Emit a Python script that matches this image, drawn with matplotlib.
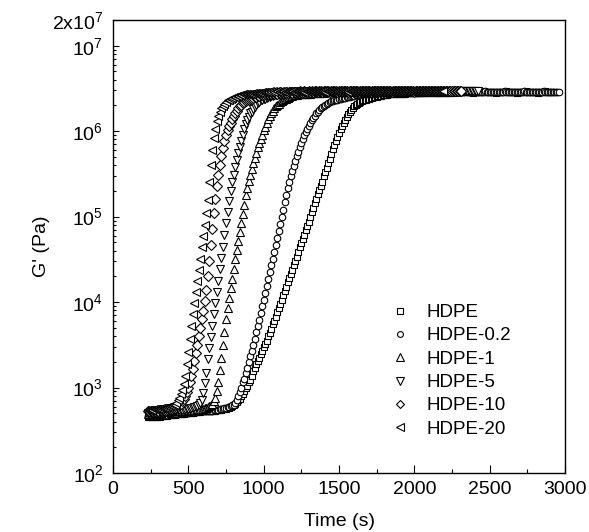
import numpy as np
import matplotlib
matplotlib.use('Agg')
import matplotlib.pyplot as plt
from matplotlib.ticker import MultipleLocator, FixedLocator, LogLocator, NullFormatter

plt.rcParams['font.family'] = ['Liberation Sans', 'DejaVu Sans']
plt.rcParams['mathtext.fontset'] = 'custom'
plt.rcParams['mathtext.rm'] = 'Liberation Sans'
plt.rcParams['mathtext.it'] = 'Liberation Sans:italic'
plt.rcParams['mathtext.bf'] = 'Liberation Sans:bold'

# sampling of the time sweep: first point and interval (s)
t_first = 230
t_step = 10

# log10 G' (Pa), one value per sample, 10 samples (100 s) per row
logG_hdpe = [
    2.65, 2.65, 2.65, 2.66, 2.66, 2.66, 2.66, 2.66, 2.66, 2.67,
    2.67, 2.67, 2.67, 2.67, 2.68, 2.68, 2.68, 2.68, 2.68, 2.69,
    2.69, 2.69, 2.69, 2.69, 2.69, 2.70, 2.70, 2.70, 2.70, 2.70,
    2.70, 2.71, 2.71, 2.71, 2.71, 2.71, 2.72, 2.72, 2.72, 2.72,
    2.72, 2.73, 2.73, 2.73, 2.73, 2.73, 2.74, 2.74, 2.74, 2.74,
    2.75, 2.75, 2.75, 2.76, 2.76, 2.77, 2.78, 2.79, 2.81, 2.83,
    2.85, 2.87, 2.90, 2.93, 2.96, 2.99, 3.02, 3.06, 3.09, 3.13,
    3.19, 3.23, 3.27, 3.31, 3.35, 3.39, 3.43, 3.47, 3.51, 3.55,
    3.60, 3.64, 3.69, 3.74, 3.78, 3.83, 3.88, 3.93, 3.98, 4.03,
    4.08, 4.13, 4.18, 4.23, 4.28, 4.33, 4.38, 4.43, 4.48, 4.53,
    4.59, 4.64, 4.69, 4.74, 4.79, 4.84, 4.89, 4.94, 5.00, 5.05,
    5.10, 5.16, 5.21, 5.26, 5.31, 5.36, 5.41, 5.47, 5.52, 5.57,
    5.63, 5.68, 5.73, 5.79, 5.84, 5.89, 5.93, 5.98, 6.02, 6.06,
    6.10, 6.13, 6.17, 6.20, 6.23, 6.25, 6.27, 6.29, 6.31, 6.32,
    6.33, 6.34, 6.35, 6.36, 6.36, 6.37, 6.38, 6.38, 6.39, 6.39,
    6.40, 6.40, 6.40, 6.41, 6.41, 6.41, 6.42, 6.42, 6.42, 6.42,
    6.43, 6.43, 6.43, 6.43, 6.43, 6.44, 6.44, 6.44, 6.44, 6.44,
    6.44, 6.44, 6.45, 6.45, 6.45, 6.45, 6.45, 6.45, 6.45, 6.45,
    6.45, 6.45, 6.45, 6.46, 6.45, 6.46, 6.46, 6.46, 6.46, 6.46,
    6.46, 6.46, 6.45, 6.46, 6.46, 6.46, 6.46, 6.47, 6.46, 6.46,
    6.46, 6.46, 6.46, 6.46, 6.45, 6.46, 6.46, 6.46, 6.46, 6.46,
    6.47, 6.46, 6.46, 6.46, 6.46, 6.46, 6.45, 6.46, 6.46, 6.46,
    6.46, 6.46, 6.46, 6.47, 6.46, 6.46, 6.46, 6.46, 6.46, 6.46,
    6.46, 6.45, 6.46, 6.46, 6.46, 6.46, 6.46, 6.46, 6.47, 6.46,
    6.46, 6.46, 6.46, 6.46, 6.46, 6.45, 6.46, 6.46, 6.46, 6.46,
    6.46, 6.47, 6.46, 6.46, 6.46, 6.46, 6.46, 6.46, 6.46, 6.45,
    6.46, 6.46, 6.46, 6.46, 6.47, 6.46, 6.46, 6.46, 6.46, 6.46,
]

logG_hdpe_02 = [
    2.67, 2.67, 2.67, 2.67, 2.67, 2.67, 2.68, 2.68, 2.68, 2.68,
    2.68, 2.68, 2.68, 2.68, 2.69, 2.69, 2.69, 2.69, 2.69, 2.69,
    2.69, 2.70, 2.70, 2.70, 2.70, 2.70, 2.70, 2.70, 2.71, 2.71,
    2.71, 2.71, 2.71, 2.72, 2.72, 2.72, 2.72, 2.72, 2.72, 2.73,
    2.73, 2.73, 2.73, 2.73, 2.74, 2.74, 2.74, 2.74, 2.75, 2.75,
    2.75, 2.76, 2.76, 2.77, 2.77, 2.78, 2.79, 2.80, 2.82, 2.85,
    2.90, 2.95, 3.00, 3.06, 3.10, 3.17, 3.23, 3.30, 3.37, 3.43,
    3.50, 3.57, 3.65, 3.72, 3.79, 3.87, 3.95, 4.03, 4.11, 4.19,
    4.27, 4.35, 4.43, 4.51, 4.59, 4.67, 4.75, 4.83, 4.91, 4.99,
    5.08, 5.17, 5.25, 5.33, 5.40, 5.47, 5.53, 5.59, 5.65, 5.71,
    5.76, 5.81, 5.86, 5.91, 5.95, 5.99, 6.03, 6.06, 6.10, 6.13,
    6.16, 6.18, 6.21, 6.23, 6.25, 6.27, 6.28, 6.30, 6.31, 6.32,
    6.33, 6.34, 6.35, 6.35, 6.36, 6.37, 6.37, 6.38, 6.38, 6.39,
    6.39, 6.39, 6.40, 6.40, 6.40, 6.41, 6.41, 6.41, 6.42, 6.42,
    6.42, 6.42, 6.43, 6.43, 6.43, 6.43, 6.44, 6.44, 6.44, 6.44,
    6.44, 6.44, 6.45, 6.45, 6.45, 6.45, 6.45, 6.45, 6.45, 6.45,
    6.45, 6.46, 6.45, 6.46, 6.46, 6.46, 6.46, 6.46, 6.46, 6.46,
    6.46, 6.46, 6.47, 6.46, 6.46, 6.46, 6.46, 6.46, 6.46, 6.46,
    6.46, 6.46, 6.46, 6.46, 6.46, 6.47, 6.46, 6.46, 6.46, 6.46,
    6.46, 6.46, 6.46, 6.46, 6.46, 6.46, 6.46, 6.46, 6.47, 6.46,
    6.46, 6.46, 6.46, 6.46, 6.46, 6.46, 6.46, 6.46, 6.46, 6.46,
    6.46, 6.47, 6.46, 6.46, 6.46, 6.46, 6.46, 6.46, 6.46, 6.46,
    6.46, 6.46, 6.46, 6.46, 6.47, 6.46, 6.46, 6.46, 6.46, 6.46,
    6.46, 6.46, 6.46, 6.46, 6.46, 6.46, 6.46, 6.47, 6.46, 6.46,
    6.46, 6.46, 6.46, 6.46, 6.46, 6.46, 6.46, 6.46, 6.46, 6.46,
    6.47, 6.46, 6.46, 6.46, 6.46, 6.46, 6.46, 6.46, 6.46, 6.46,
    6.46, 6.46, 6.46, 6.47, 6.46, 6.46, 6.46, 6.46, 6.46, 6.46,
    6.46, 6.46, 6.46, 6.46,
]

logG_hdpe_1 = [
    2.69, 2.69, 2.69, 2.69, 2.70, 2.70, 2.70, 2.70, 2.70, 2.70,
    2.71, 2.71, 2.71, 2.71, 2.71, 2.72, 2.72, 2.72, 2.72, 2.72,
    2.72, 2.73, 2.73, 2.73, 2.73, 2.73, 2.73, 2.74, 2.74, 2.74,
    2.74, 2.74, 2.74, 2.75, 2.75, 2.75, 2.75, 2.75, 2.76, 2.76,
    2.77, 2.78, 2.79, 2.81, 2.84, 2.88, 2.96, 3.07, 3.21, 3.35,
    3.50, 3.65, 3.80, 3.93, 4.05, 4.16, 4.27, 4.39, 4.50, 4.61,
    4.71, 4.82, 4.93, 5.03, 5.14, 5.25, 5.33, 5.42, 5.49, 5.56,
    5.63, 5.69, 5.75, 5.81, 5.86, 5.91, 5.96, 6.01, 6.05, 6.10,
    6.14, 6.18, 6.21, 6.24, 6.27, 6.29, 6.31, 6.32, 6.34, 6.35,
    6.37, 6.38, 6.38, 6.39, 6.40, 6.41, 6.41, 6.42, 6.42, 6.42,
    6.43, 6.43, 6.43, 6.43, 6.44, 6.44, 6.44, 6.44, 6.44, 6.45,
    6.45, 6.45, 6.45, 6.45, 6.45, 6.45, 6.46, 6.45, 6.46, 6.46,
    6.46, 6.46, 6.46, 6.46, 6.46, 6.47, 6.46, 6.46, 6.46, 6.46,
    6.46, 6.47, 6.46, 6.46, 6.46, 6.46, 6.46, 6.47, 6.46, 6.46,
    6.46, 6.46, 6.46, 6.46, 6.47, 6.46, 6.46, 6.46, 6.46, 6.47,
    6.46, 6.46, 6.47, 6.46, 6.46, 6.46, 6.46, 6.46, 6.47, 6.46,
    6.46, 6.46, 6.46, 6.47, 6.46, 6.46, 6.46, 6.47, 6.46, 6.46,
    6.47, 6.46, 6.46, 6.46, 6.46, 6.47, 6.46, 6.46, 6.46, 6.46,
    6.46, 6.46, 6.47, 6.46, 6.46, 6.46, 6.47, 6.46, 6.46, 6.46,
    6.46, 6.47, 6.46, 6.46, 6.46, 6.46, 6.46, 6.47, 6.46, 6.46,
    6.46, 6.46, 6.47,
]

logG_hdpe_5 = [
    2.70, 2.70, 2.70, 2.71, 2.71, 2.71, 2.71, 2.71, 2.71, 2.72,
    2.72, 2.72, 2.72, 2.72, 2.73, 2.73, 2.73, 2.73, 2.73, 2.74,
    2.74, 2.74, 2.74, 2.74, 2.74, 2.75, 2.75, 2.75, 2.75, 2.76,
    2.76, 2.77, 2.77, 2.78, 2.79, 2.82, 2.86, 2.94, 3.05, 3.17,
    3.33, 3.46, 3.59, 3.72, 3.86, 3.99, 4.12, 4.25, 4.39, 4.52,
    4.65, 4.79, 4.92, 5.05, 5.18, 5.30, 5.40, 5.49, 5.58, 5.66,
    5.74, 5.82, 5.89, 5.96, 6.02, 6.08, 6.13, 6.17, 6.21, 6.23,
    6.26, 6.28, 6.31, 6.33, 6.34, 6.36, 6.37, 6.38, 6.38, 6.39,
    6.40, 6.40, 6.41, 6.41, 6.42, 6.42, 6.42, 6.43, 6.43, 6.43,
    6.43, 6.44, 6.44, 6.44, 6.44, 6.44, 6.45, 6.45, 6.45, 6.45,
    6.45, 6.45, 6.45, 6.45, 6.46, 6.45, 6.46, 6.46, 6.46, 6.46,
    6.46, 6.46, 6.47, 6.46, 6.46, 6.46, 6.47, 6.46, 6.46, 6.47,
    6.46, 6.47, 6.46, 6.46, 6.47, 6.46, 6.47, 6.47, 6.46, 6.47,
    6.47, 6.46, 6.47, 6.47, 6.46, 6.47, 6.47, 6.46, 6.47, 6.47,
    6.47, 6.47, 6.46, 6.47, 6.47, 6.47, 6.46, 6.47, 6.47, 6.47,
    6.47, 6.46, 6.47, 6.47, 6.47, 6.47, 6.47, 6.46, 6.47, 6.47,
    6.47, 6.47, 6.47, 6.47, 6.46, 6.47, 6.47, 6.47, 6.47, 6.47,
    6.46, 6.47, 6.47, 6.47, 6.47, 6.47, 6.47, 6.46, 6.47, 6.47,
    6.47, 6.47, 6.47, 6.47, 6.47, 6.46, 6.47, 6.47, 6.47, 6.47,
    6.47, 6.47, 6.47, 6.46, 6.47, 6.47, 6.47, 6.47, 6.47, 6.47,
    6.47, 6.47, 6.47, 6.47, 6.47, 6.47, 6.46, 6.47, 6.47, 6.47,
    6.47, 6.47, 6.47, 6.47, 6.47, 6.47, 6.47, 6.47, 6.47, 6.47,
]

logG_hdpe_10 = [
    2.72, 2.72, 2.72, 2.73, 2.73, 2.73, 2.73, 2.73, 2.74, 2.74,
    2.74, 2.74, 2.74, 2.75, 2.75, 2.75, 2.75, 2.76, 2.76, 2.77,
    2.78, 2.79, 2.81, 2.84, 2.87, 2.90, 2.95, 3.00, 3.06, 3.14,
    3.22, 3.31, 3.40, 3.50, 3.60, 3.70, 3.80, 3.90, 4.01, 4.14,
    4.30, 4.48, 4.67, 4.86, 5.04, 5.21, 5.36, 5.49, 5.61, 5.71,
    5.80, 5.88, 5.95, 6.01, 6.06, 6.10, 6.14, 6.18, 6.21, 6.24,
    6.27, 6.29, 6.31, 6.33, 6.34, 6.35, 6.36, 6.37, 6.38, 6.38,
    6.39, 6.40, 6.40, 6.41, 6.41, 6.42, 6.42, 6.42, 6.43, 6.43,
    6.43, 6.43, 6.44, 6.44, 6.44, 6.44, 6.44, 6.45, 6.45, 6.45,
    6.45, 6.45, 6.45, 6.45, 6.46, 6.46, 6.45, 6.46, 6.46, 6.46,
    6.46, 6.47, 6.46, 6.46, 6.47, 6.46, 6.46, 6.47, 6.46, 6.47,
    6.46, 6.47, 6.47, 6.46, 6.47, 6.47, 6.46, 6.47, 6.47, 6.47,
    6.47, 6.46, 6.47, 6.47, 6.47, 6.47, 6.46, 6.47, 6.47, 6.47,
    6.47, 6.47, 6.47, 6.46, 6.47, 6.47, 6.47, 6.47, 6.47, 6.47,
    6.46, 6.47, 6.47, 6.47, 6.47, 6.47, 6.47, 6.47, 6.46, 6.47,
    6.47, 6.47, 6.47, 6.47, 6.47, 6.47, 6.47, 6.47, 6.47, 6.47,
    6.47, 6.47, 6.46, 6.47, 6.47, 6.47, 6.47, 6.47, 6.47, 6.47,
    6.47, 6.47, 6.47, 6.47, 6.47, 6.47, 6.47, 6.46, 6.47, 6.47,
    6.47, 6.47, 6.47, 6.47, 6.47, 6.47, 6.47, 6.47, 6.47, 6.47,
    6.47, 6.47, 6.47, 6.47, 6.47, 6.47, 6.47, 6.47, 6.47, 6.47,
    6.47, 6.47, 6.47, 6.47, 6.47, 6.47, 6.47, 6.47, 6.47,
]

logG_hdpe_20 = [
    2.74, 2.74, 2.74, 2.74, 2.75, 2.75, 2.75, 2.75, 2.75, 2.76,
    2.76, 2.76, 2.76, 2.77, 2.77, 2.78, 2.78, 2.79, 2.80, 2.82,
    2.85, 2.88, 2.92, 2.97, 3.04, 3.14, 3.27, 3.42, 3.57, 3.72,
    3.86, 3.99, 4.12, 4.25, 4.38, 4.51, 4.64, 4.77, 4.90, 5.04,
    5.20, 5.40, 5.60, 5.78, 5.92, 6.03, 6.12, 6.18, 6.23, 6.27,
    6.30, 6.32, 6.34, 6.36, 6.37, 6.38, 6.39, 6.40, 6.40, 6.41,
    6.41, 6.42, 6.42, 6.43, 6.43, 6.43, 6.44, 6.44, 6.44, 6.44,
    6.45, 6.45, 6.45, 6.45, 6.45, 6.45, 6.46, 6.46, 6.46, 6.46,
    6.46, 6.47, 6.46, 6.47, 6.46, 6.47, 6.47, 6.46, 6.47, 6.47,
    6.47, 6.46, 6.47, 6.47, 6.47, 6.47, 6.47, 6.46, 6.47, 6.47,
    6.47, 6.47, 6.47, 6.47, 6.46, 6.47, 6.47, 6.47, 6.47, 6.47,
    6.47, 6.47, 6.47, 6.47, 6.47, 6.47, 6.47, 6.47, 6.46, 6.47,
    6.47, 6.47, 6.47, 6.47, 6.47, 6.47, 6.47, 6.47, 6.47, 6.47,
    6.47, 6.47, 6.47, 6.46, 6.47, 6.47, 6.47, 6.47, 6.47, 6.47,
    6.47, 6.47, 6.47, 6.47, 6.47, 6.47, 6.47, 6.47, 6.47, 6.47,
    6.47, 6.47, 6.47, 6.47, 6.47, 6.47, 6.47, 6.47, 6.47, 6.47,
    6.47, 6.47, 6.47, 6.47, 6.47, 6.47, 6.47, 6.47, 6.47, 6.47,
    6.47, 6.47, 6.47, 6.47, 6.47, 6.47, 6.47, 6.47, 6.47, 6.47,
    6.47, 6.47, 6.47, 6.47, 6.47, 6.47, 6.47, 6.47, 6.47, 6.47,
    6.47, 6.47, 6.47, 6.47, 6.47, 6.47, 6.47,
]

series = [logG_hdpe, logG_hdpe_02, logG_hdpe_1, logG_hdpe_5, logG_hdpe_10, logG_hdpe_20]
labels = ['HDPE', 'HDPE-0.2', 'HDPE-1', 'HDPE-5', 'HDPE-10', 'HDPE-20']

x_ticks = [0, 500, 1000, 1500, 2000, 2500, 3000]
y_ticks = [1e2, 1e3, 1e4, 1e5, 1e6, 1e7, 2e7]
y_ticklabels = ['$10^{2}$', '$10^{3}$', '$10^{4}$', '$10^{5}$', '$10^{6}$', '$10^{7}$', '2x$10^{7}$']

markers = ['s', 'o', '^', 'v', 'D', '<']
msizes = [4.2, 4.7, 6.2, 6.2, 4.6, 6.2]

fig = plt.figure(figsize=(5.89, 5.32), dpi=100)
ax = fig.add_axes([113 / 589, 1 - 473 / 532, 452 / 589, 453 / 532])

for vals, lab, mk, ms in zip(series, labels, markers, msizes):
    t = t_first + t_step * np.arange(len(vals))
    ax.plot(t, 10 ** np.array(vals), linestyle='none', marker=mk, ms=ms,
            mfc='white', mec='black', mew=0.8, label=lab)

ax.set_yscale('log')
ax.set_xlim(0, 3000)
ax.set_ylim(1e2, 2e7)

ax.xaxis.set_major_locator(FixedLocator(x_ticks))
ax.xaxis.set_minor_locator(MultipleLocator(250))
ax.yaxis.set_major_locator(FixedLocator(y_ticks))
ax.set_yticklabels(y_ticklabels)
ax.yaxis.set_minor_locator(LogLocator(base=10, subs=np.arange(2, 10), numticks=20))
ax.yaxis.set_minor_formatter(NullFormatter())

ax.tick_params(which='both', direction='in', top=False, right=False,
               labelsize=14, width=0.8, colors='black')
ax.tick_params(axis='x', which='major', length=5.5, pad=6)
ax.tick_params(axis='x', which='minor', length=3)
ax.tick_params(axis='y', which='major', length=4.5, pad=7)
ax.tick_params(axis='y', which='minor', length=2.5)
for sp in ax.spines.values():
    sp.set_linewidth(1.0)

ax.set_xlabel('Time (s)', fontsize=14)
ax.set_ylabel("G' (Pa)", fontsize=14)
ax.xaxis.set_label_coords(0.5, -0.088)
ax.yaxis.set_label_coords(-0.14, 0.5)

ax.legend(loc='upper left', bbox_to_anchor=(0.614, 0.373), frameon=False,
          fontsize=13.5, handlelength=1.0, handletextpad=0.9, labelspacing=0.33,
          borderpad=0, borderaxespad=0, numpoints=1, markerscale=0.9)

fig.savefig('out.png', dpi=100)
